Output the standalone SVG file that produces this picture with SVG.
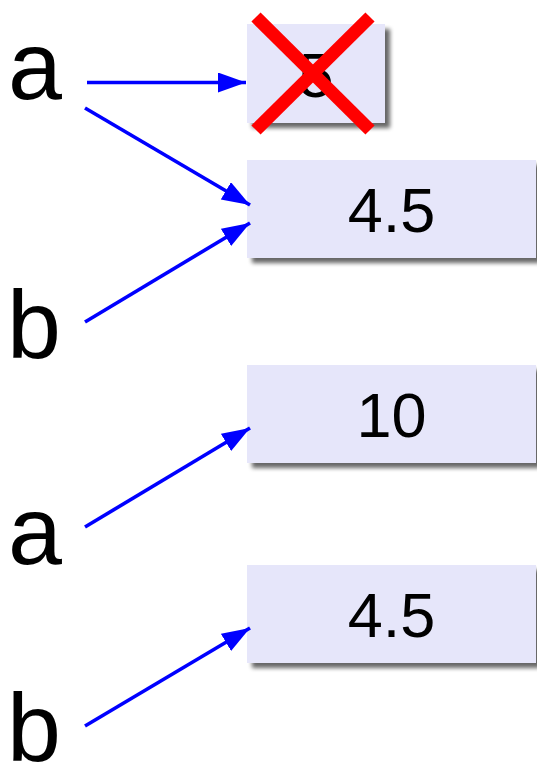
<svg xmlns="http://www.w3.org/2000/svg" width="537" height="765" viewBox="0 0 537 765">
<style>
.lbl{font-family:"Liberation Sans",Arial,sans-serif;font-size:97px;fill:#000}
.val{font-family:"Liberation Sans",Arial,sans-serif;font-size:63px;fill:#000;text-anchor:middle}
.box{fill:#e6e6fa;filter:url(#sh)}
.ar{stroke:#0000ff;stroke-width:3.6;fill:none;marker-end:url(#ah)}
.x{stroke:#ff0000;stroke-width:13;stroke-linecap:butt}
</style>
<defs>
<filter id="sh" x="-10%" y="-10%" width="130%" height="140%">
<feGaussianBlur in="SourceAlpha" stdDeviation="2"/>
<feOffset dx="5" dy="5" result="b"/>
<feComponentTransfer><feFuncA type="linear" slope="0.6"/></feComponentTransfer>
<feMerge><feMergeNode/><feMergeNode in="SourceGraphic"/></feMerge>
</filter>
<marker id="ah" markerUnits="userSpaceOnUse" markerWidth="30" markerHeight="22" refX="28" refY="10" orient="auto">
<path d="M0,0 L28,10 L0,20 z" fill="#0000ff"/>
</marker>
</defs>
<g id="box1"><rect class="box" x="247" y="24" width="138" height="99"/><text class="val" x="316" y="97">5</text>
<line class="x" x1="256" y1="17" x2="370" y2="130"/><line class="x" x1="370" y1="17" x2="256" y2="130"/></g>
<g id="box2"><rect class="box" x="247" y="160" width="289" height="98"/><text class="val" x="391.5" y="232">4.5</text></g>
<g id="box3"><rect class="box" x="247" y="365" width="289" height="98"/><text class="val" x="391.5" y="437">10</text></g>
<g id="box4"><rect class="box" x="247" y="565" width="289" height="98"/><text class="val" x="391.5" y="637">4.5</text></g>
<g id="a1"><text class="lbl" x="8" y="99">a</text></g>
<g id="b1"><text class="lbl" x="7" y="358">b</text></g>
<g id="a2"><text class="lbl" x="8" y="564">a</text></g>
<g id="b2"><text class="lbl" x="7" y="761">b</text></g>
<g id="connectors">
<line class="ar" x1="87" y1="82.5" x2="246" y2="82.5"/>
<line class="ar" x1="85" y1="108" x2="250" y2="205"/>
<line class="ar" x1="85" y1="322" x2="250" y2="223"/>
<line class="ar" x1="85" y1="527" x2="250" y2="428"/>
<line class="ar" x1="85" y1="726" x2="250" y2="628"/>
</g>
</svg>
